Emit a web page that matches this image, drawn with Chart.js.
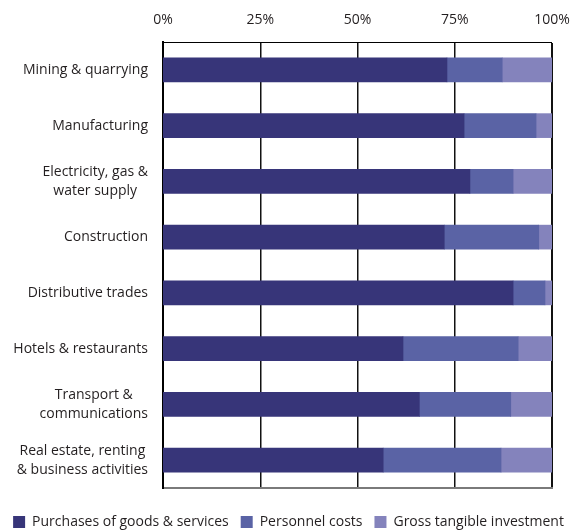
<!DOCTYPE html>
<html>
<head>
<meta charset="utf-8">
<script src="https://cdn.jsdelivr.net/npm/chart.js@4/dist/chart.umd.min.js"></script>
<style>
  html, body { margin: 0; padding: 0; background: #ffffff; }
  #wrap { width: 577px; height: 531px; }
</style>
</head>
<body>
<div id="wrap"><canvas id="chart" width="577" height="531"></canvas></div>
<script>
// Sectors (multi-line labels are arrays of lines)
const sectors = [
  ['Mining & quarrying'],
  ['Manufacturing'],
  ['Electricity, gas &', 'water supply'],
  ['Construction'],
  ['Distributive trades'],
  ['Hotels & restaurants'],
  ['Transport &', 'communications'],
  ['Real estate, renting', '& business activities']
];

// Share of total expenditure, %
const purchases = [73.0, 77.4, 78.9, 72.3, 90.0, 61.7, 65.9, 56.6];
const personnel = [14.2, 18.5, 11.1, 24.3, 8.2, 29.6, 23.5, 30.3];
const investment = [12.8, 4.1, 10.0, 3.4, 1.8, 8.7, 10.6, 13.1];

const seriesNames = ['Purchases of goods & services', 'Personnel costs', 'Gross tangible investment'];
const tickValues = [0, 25, 50, 75, 100];

const FONT = '"Open Sans", "Noto Sans", sans-serif';
const TEXT = '#231f20';

// Category labels: each block right-aligned to the axis, its lines centred on each other
const sectorLabels = {
  id: 'sectorLabels',
  afterDraw(chart) {
    const scale = chart.scales.y;
    const ctx = chart.ctx;
    const lineH = 19;
    const right = scale.right - 15;
    ctx.save();
    ctx.font = '14px ' + FONT;
    ctx.fillStyle = TEXT;
    ctx.textAlign = 'center';
    ctx.textBaseline = 'middle';
    sectors.forEach((lines, i) => {
      const y = scale.getPixelForTick(i);
      const widest = Math.max(...lines.map(l => ctx.measureText(l).width));
      const cx = right - widest / 2;
      const y0 = y - (lines.length - 1) * lineH / 2;
      lines.forEach((l, k) => ctx.fillText(l, cx, y0 + k * lineH));
    });
    ctx.restore();
  }
};

new Chart(document.getElementById('chart'), {
  type: 'bar',
  data: {
    labels: sectors.map(s => s.join(' ')),
    datasets: [
      { label: seriesNames[0], data: purchases, backgroundColor: '#373579' },
      { label: seriesNames[1], data: personnel, backgroundColor: '#5a63a5' },
      { label: seriesNames[2], data: investment, backgroundColor: '#8483bc' }
    ]
  },
  options: {
    responsive: false,
    animation: false,
    indexAxis: 'y',
    layout: { padding: { left: 0, right: 0, top: 0, bottom: -8 } },
    datasets: { bar: { barThickness: 24, borderWidth: 0 } },
    scales: {
      x: {
        position: 'top',
        stacked: true,
        min: 0,
        max: 100,
        afterBuildTicks(scale) { scale.ticks = tickValues.map(v => ({ value: v })); },
        ticks: {
          callback: v => v + '%',
          font: { family: FONT, size: 14 },
          color: TEXT,
          padding: 14,
          maxRotation: 0
        },
        grid: {
          drawTicks: false,
          color: '#111111',
          lineWidth: c => (c.tick && c.tick.value === 0) ? 0 : (c.tick && c.tick.value === 100 ? 2 : 1.5)
        },
        border: { display: true, color: '#000000', width: 1 },
        afterFit(scale) {
          scale.height = 42;
          scale.paddingLeft = 0;
          scale.paddingRight = 0;
        }
      },
      x2: {
        type: 'linear',
        position: 'bottom',
        min: 0,
        max: 100,
        ticks: { display: false },
        grid: { display: false },
        border: { display: true, color: '#7a7a7a', width: 2 },
        afterFit(scale) {
          scale.height = 15;
          scale.paddingLeft = 0;
          scale.paddingRight = 0;
        }
      },
      y: {
        stacked: true,
        ticks: { display: false },
        grid: { display: false },
        border: { display: true, color: '#000000', width: 2 },
        afterFit(scale) { scale.width = 163; }
      },
      y2: {
        type: 'linear',
        position: 'right',
        ticks: { display: false },
        grid: { display: false },
        border: { display: false },
        afterFit(scale) { scale.width = 25; }
      }
    },
    plugins: {
      legend: {
        position: 'bottom',
        labels: {
          boxWidth: 12,
          boxHeight: 12,
          padding: 12,
          color: TEXT,
          font: { family: FONT, size: 14 }
        }
      },
      tooltip: { enabled: false }
    }
  },
  plugins: [sectorLabels]
});
</script>
</body>
</html>
